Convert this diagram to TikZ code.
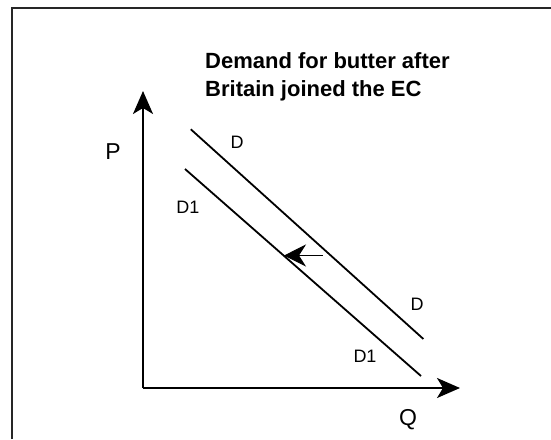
\documentclass[tikz,border=0pt]{standalone}
\usepackage{fontspec}
\setmainfont{Liberation Sans}
\usetikzlibrary{arrows.meta}
\begin{document}
\begin{tikzpicture}[x=1pt,y=-1pt,
    axis/.style={line width=1.8pt, -{Stealth[length=23pt,width=20pt,inset=6pt]}},
    curve/.style={line width=1.8pt},
    lbl/.style={inner sep=0pt, font=\fontsize{18}{18}\selectfont},
    axlbl/.style={inner sep=0pt, font=\fontsize{23}{23}\selectfont},
    title/.style={inner sep=0pt, anchor=base west, font=\fontsize{22}{22}\selectfont\bfseries}]
    \useasboundingbox (0,0) rectangle (551,439);

    %frame
    \draw[line width=1.7pt, black!85] (12,439) -- (12,8) -- (551,8);

    %title
    \node[title] (title1) at (205,68.5) {Demand for butter after};
    \node[title] (title2) at (205,96.6) {Britain joined the EC};

    %axis
    \coordinate (O) at (143,388);
    \coordinate (ptop) at (143,91);
    \coordinate (qend) at (460,388);
    \draw[axis] (O) -- (ptop);
    \draw[axis] (O) -- (qend);
    \node[axlbl] (P) at (113,152) {P};
    \node[axlbl] (Q) at (408,420) {Q};

    %demand curves
    \coordinate (d0) at (190.8,129.3);
    \coordinate (d1) at (423.4,339);
    \coordinate (e0) at (185,169);
    \coordinate (e1) at (421,376);
    \draw[curve] (d0) -- (d1);
    \draw[curve] (e0) -- (e1);

    %labels
    \node[lbl] (Dtop) at (237,142) {D};
    \node[lbl] (D1top) at (188,207) {D1};
    \node[lbl] (Dbot) at (417,304) {D};
    \node[lbl] (D1bot) at (365,356) {D1};

    %shift
    \coordinate (s0) at (322.6,255.5);
    \coordinate (s1) at (284,255.5);
    \draw[line width=1pt, -{Stealth[length=22pt,width=22pt,inset=7pt]}] (s0) -- (s1);
\end{tikzpicture}
\end{document}
